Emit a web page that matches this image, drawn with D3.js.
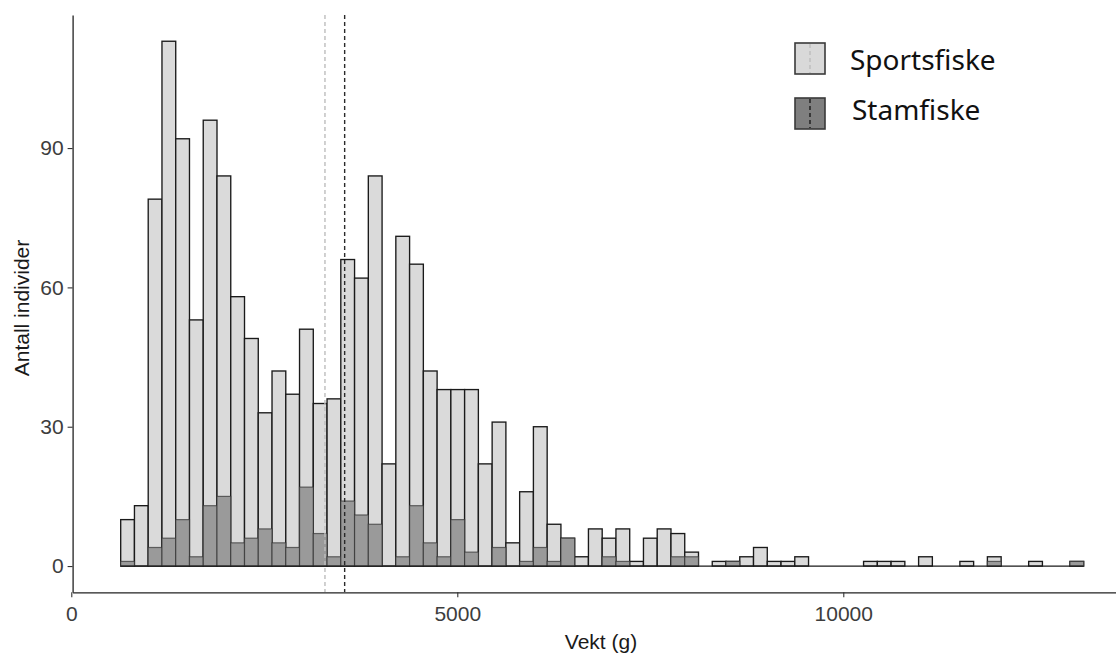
<!DOCTYPE html>
<html>
<head>
<meta charset="utf-8">
<script src="https://cdn.jsdelivr.net/npm/d3@7"></script>
<style>
  body { margin: 0; background: white; }
  svg { display: block; }
</style>
</head>
<body>
<div id="chart"></div>
<script>
// Histogram bins (g): first lower edge and bin width
const binStart = 640;
const binWidth = 178.2;

// Counts per bin
const sportsfiske = [10, 13, 79, 113, 92, 53, 96, 84, 58, 49,
                     33, 42, 37, 51, 35, 36, 66, 62, 84, 22,
                     71, 65, 42, 38, 38, 38, 22, 31, 5, 16,
                     30, 9, 6, 2, 8, 6, 8, 1, 6, 8,
                     7, 3, 0, 1, 1, 2, 4, 1, 1, 2,
                     0, 0, 0, 0, 1, 1, 1, 0, 2, 0,
                     0, 1, 0, 2, 0, 0, 1, 0, 0, 1];
const stamfiske = [1, 0, 4, 6, 10, 2, 13, 15, 5, 6,
                   8, 5, 4, 17, 7, 2, 14, 11, 9, 0,
                   2, 13, 5, 2, 10, 3, 0, 4, 0, 1,
                   4, 1, 6, 0, 0, 2, 1, 0, 0, 0,
                   2, 2, 0, 0, 1, 0, 0, 0, 0, 0,
                   0, 0, 0, 0, 0, 0, 0, 0, 0, 0,
                   0, 0, 0, 1, 0, 0, 0, 0, 0, 1];

// Mean weights (dashed lines)
const meanSports = 3286;
const meanStam = 3541;

const xTicks = [0, 5000, 10000];
const yTicks = [0, 30, 60, 90];
const legendLabels = ["Sportsfiske", "Stamfiske"];

const width = 1116, height = 655;

const svg = d3.select("#chart").append("svg")
    .attr("width", width)
    .attr("height", height);

const x = d3.scaleLinear().domain([17, 13723]).range([72.6, 1130.7]);
const y = d3.scaleLinear().domain([-5.65, 118.65]).range([592.3, 15]);

const bins = sportsfiske.map((d, i) => ({
    x0: binStart + i * binWidth,
    x1: binStart + (i + 1) * binWidth,
    sport: d,
    stam: stamfiske[i]
}));

// Sportsfiske bars
svg.append("g").selectAll("rect")
    .data(bins.filter(d => d.sport > 0))
    .enter().append("rect")
    .attr("x", d => x(d.x0))
    .attr("width", d => x(d.x1) - x(d.x0))
    .attr("y", d => y(d.sport))
    .attr("height", d => y(0) - y(d.sport))
    .attr("fill", "#dadada")
    .attr("stroke", "#1a1a1a")
    .attr("stroke-width", 1.35);

// Stamfiske bars on top
svg.append("g").selectAll("rect")
    .data(bins.filter(d => d.stam > 0))
    .enter().append("rect")
    .attr("x", d => x(d.x0))
    .attr("width", d => x(d.x1) - x(d.x0))
    .attr("y", d => y(d.stam))
    .attr("height", d => y(0) - y(d.stam))
    .attr("fill", "#9a9a9a")
    .attr("stroke", "#333")
    .attr("stroke-width", 1.2)
    .attr("stroke-opacity", 0.7);

// Zero-height bins show as a line along the baseline
svg.append("line")
    .attr("x1", x(bins[0].x0))
    .attr("x2", x(bins[bins.length - 1].x1))
    .attr("y1", y(0)).attr("y2", y(0))
    .attr("stroke", "#1a1a1a")
    .attr("stroke-width", 1.35);

// Mean lines
svg.append("line")
    .attr("x1", x(meanSports)).attr("x2", x(meanSports))
    .attr("y1", 15).attr("y2", 592)
    .attr("stroke", "#bdbdbd")
    .attr("stroke-width", 1.4)
    .attr("stroke-dasharray", "4,3");

svg.append("line")
    .attr("x1", x(meanStam)).attr("x2", x(meanStam))
    .attr("y1", 15).attr("y2", 592)
    .attr("stroke", "#2a2a2a")
    .attr("stroke-width", 1.4)
    .attr("stroke-dasharray", "4,3");

// Axes
const xAxis = svg.append("g")
    .attr("transform", `translate(0,${y.range()[0]})`)
    .call(d3.axisBottom(x).tickValues(xTicks).tickFormat(d3.format("d"))
        .tickSize(5).tickSizeOuter(0).tickPadding(9));

const yAxis = svg.append("g")
    .attr("transform", `translate(${x.range()[0]},0)`)
    .call(d3.axisLeft(y).tickValues(yTicks).tickFormat(d3.format("d"))
        .tickSize(5).tickSizeOuter(0).tickPadding(4));

[xAxis, yAxis].forEach(ax => {
    ax.select(".domain").attr("stroke", "#222").attr("stroke-width", 1.3);
    ax.selectAll(".tick line").attr("stroke", "#333").attr("stroke-width", 1.1);
    ax.selectAll(".tick text")
        .attr("fill", "#3d3d3d")
        .style("font-family", "'Liberation Sans', Arial, sans-serif")
        .style("font-size", "21px");
});

// Axis titles
svg.append("text")
    .attr("x", 601)
    .attr("y", 649)
    .attr("text-anchor", "middle")
    .attr("fill", "#1a1a1a")
    .style("font-family", "'Liberation Sans', Arial, sans-serif")
    .style("font-size", "21px")
    .text("Vekt (g)");

svg.append("text")
    .attr("transform", "translate(29,308) rotate(-90)")
    .attr("text-anchor", "middle")
    .attr("fill", "#1a1a1a")
    .style("font-family", "'Liberation Sans', Arial, sans-serif")
    .style("font-size", "21px")
    .text("Antall individer");

// Legend
const legendFill = ["#d9d9d9", "#7f7f7f"];
const legendDash = ["#bdbdbd", "#1a1a1a"];
const legendY = [43, 98];
const legendTextY = [70, 120];
const legend = svg.append("g");

legendLabels.forEach((label, i) => {
    legend.append("rect")
        .attr("x", 795).attr("y", legendY[i])
        .attr("width", 30).attr("height", 31)
        .attr("fill", legendFill[i])
        .attr("stroke", "#3a3a3a")
        .attr("stroke-width", 1.6);
    legend.append("line")
        .attr("x1", 810).attr("x2", 810)
        .attr("y1", legendY[i] + 1).attr("y2", legendY[i] + 30)
        .attr("stroke", legendDash[i])
        .attr("stroke-width", 1.4)
        .attr("stroke-dasharray", "4,3");
    legend.append("text")
        .attr("x", i === 0 ? 850 : 852)
        .attr("y", legendTextY[i])
        .attr("fill", "#111")
        .style("font-family", "'Noto Sans', 'Open Sans', sans-serif")
        .style("font-size", "28px")
        .text(label);
});
</script>
</body>
</html>
